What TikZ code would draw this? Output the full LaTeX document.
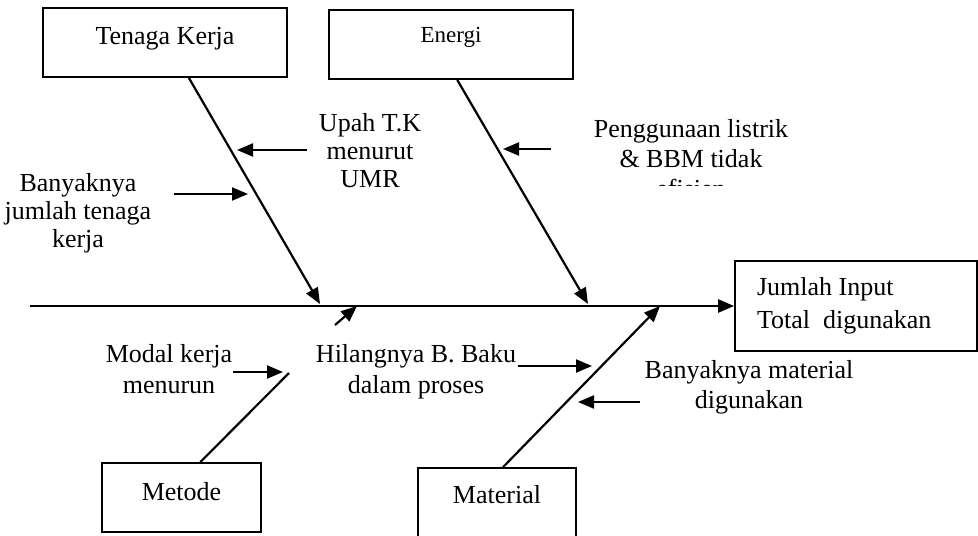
\documentclass[tikz,border=0pt]{standalone}
\usepackage{fontspec}
\setmainfont{Liberation Serif}
\usetikzlibrary{arrows.meta}

\begin{document}
\begin{tikzpicture}[
        x=0.5pt, y=-0.5pt,
        >={Triangle[length=8pt,width=6.5pt]},
        box/.style={draw, line width=0.9pt, inner sep=0pt, font=\fontsize{13}{14}\selectfont},
        cause/.style={align=center, inner sep=0pt, anchor=base, font=\fontsize{13}{14}\selectfont},
        bone/.style={line width=1.1pt},
        spine/.style={line width=1.3pt}
    ]
    \clip (0,0) rectangle (978,535);

    % Boxes
    \node[box, minimum width=122pt, text height=18.5pt, text depth=16pt] (tk) at (165,42.5) {Tenaga Kerja};
    \node[box, minimum width=122pt, text height=16.5pt, text depth=18pt, font=\fontsize{11.5}{13}\selectfont] (en) at (451,44.5) {Energi};
    \node[box, minimum width=79.5pt, text height=18.5pt, text depth=16pt] (me) at (181.5,497.5) {Metode};
    \node[box, minimum width=79pt, text height=17.5pt, text depth=20pt] (ma) at (497,505.5) {Material};
    \node[box, text width=99pt, inner xsep=11pt, minimum height=45pt, align=flush left,
          font=\fontsize{13}{16.5}\selectfont] (out) at (856,306) {Jumlah Input\\Total~ digunakan};

    % Cause texts (placed by the baseline of the last line)
    \node[cause] (upah) at (370,187) {Upah T.K\\menurut\\UMR};
    \node[cause] (jml) at (78,247) {Banyaknya\\jumlah tenaga\\kerja};
    \begin{scope}
        \clip (560,90) rectangle (830,185);
        \node[cause, font=\fontsize{13}{15}\selectfont] (guna) at (691,197) {Penggunaan listrik\\\& BBM tidak\\efisien};
    \end{scope}
    \node[cause, font=\fontsize{13}{15.5}\selectfont] (modal) at (169,393) {Modal kerja\\menurun};
    \node[cause, font=\fontsize{13}{15.5}\selectfont] (hilang) at (416,393) {Hilangnya B. Baku\\dalam proses};
    \node[cause, font=\fontsize{13}{15}\selectfont] (matl) at (749,408) {Banyaknya material\\digunakan};

    % Points on the spine and the bones
    \coordinate (tail) at (30,306);
    \coordinate (tkH) at (320,304);
    \coordinate (enH) at (588,304);
    \coordinate (meA) at (289,373);
    \coordinate (meB) at (335,325);
    \coordinate (meH) at (357,306);
    \coordinate (maH) at (660,306);
    \coordinate (upahS) at (307,150);   \coordinate (upahT) at (237,150);
    \coordinate (jmlS) at (174,194);    \coordinate (jmlT) at (248,194);
    \coordinate (gunaS) at (551,149);   \coordinate (gunaT) at (503,149);
    \coordinate (modalS) at (233,372);  \coordinate (modalT) at (283,372);
    \coordinate (hilangS) at (518,366); \coordinate (hilangT) at (592,366);
    \coordinate (matlS) at (640,402);   \coordinate (matlT) at (578,402);

    % Spine and bones
    \draw[spine, ->] (tail) -- (out.west);
    \draw[bone, ->] (tk.-56) -- (tkH);
    \draw[bone, ->] (en.-80) -- (enH);
    \draw[bone] (me.62) -- (meA);
    \draw[bone, ->] (meB) -- (meH);
    \draw[bone, ->] (ma.81) -- (maH);

    % Cause arrows
    \draw[bone, ->] (upahS) -- (upahT);
    \draw[bone, ->] (jmlS) -- (jmlT);
    \draw[bone, ->] (gunaS) -- (gunaT);
    \draw[bone, ->] (modalS) -- (modalT);
    \draw[bone, ->] (hilangS) -- (hilangT);
    \draw[bone, ->] (matlS) -- (matlT);
\end{tikzpicture}
\end{document}
